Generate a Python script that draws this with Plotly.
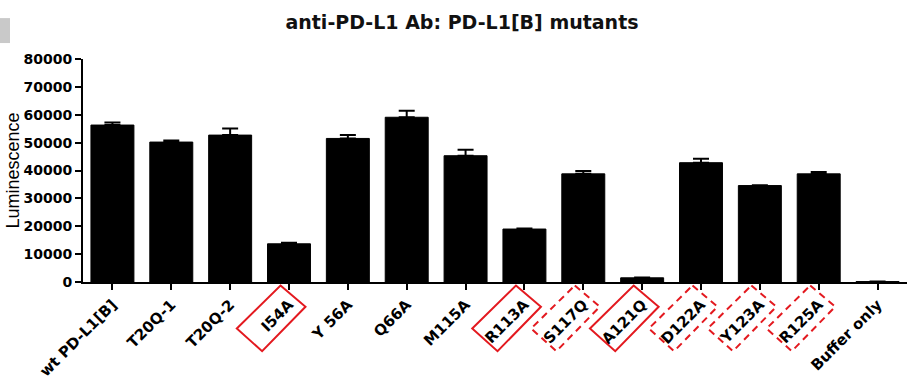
import plotly.graph_objects as go

categories = ["wt PD-L1[B]", "T20Q-1", "T20Q-2", "I54A", "Y 56A", "Q66A", "M115A",
              "R113A", "S117Q", "A121Q", "D122A", "Y123A", "R125A", "Buffer only"]
values = [56300, 50200, 52700, 13700, 51500, 59100, 45300,
          19000, 38800, 1500, 42800, 34600, 38800, 150]
errors = [900, 600, 2400, 350, 1200, 2300, 2150,
          200, 1000, 150, 1450, 150, 700, 0]
solid_boxes = ["I54A", "R113A", "A121Q"]
dashed_boxes = ["S117Q", "D122A", "Y123A", "R125A"]
y_ticks = [0, 10000, 20000, 30000, 40000, 50000, 60000, 70000, 80000]

RED = "#e3191f"
tick_font = dict(family="DejaVu Sans", size=14, color="black", weight="bold")
N = len(categories)

fig = go.Figure()
fig.add_trace(go.Bar(
    x=list(range(N)), y=values, width=0.73,
    marker=dict(color="black", line=dict(color="black", width=1)),
    error_y=dict(type="data", symmetric=False, array=errors,
                 arrayminus=[0] * N, color="black", thickness=2, width=8),
    showlegend=False,
))

# rotated boxes around selected tick labels (pixel offsets relative to tick base)
box_path = "M -8.5 -3.5 L 16.5 -24.7 L -26.9 -69.2 L -52.2 -46.5 Z"
for name in solid_boxes + dashed_boxes:
    i = categories.index(name)
    fig.add_shape(
        type="path", xref="paper", yref="paper", xsizemode="pixel", ysizemode="pixel",
        xanchor=(i + 0.5) / N, yanchor=0, path=box_path,
        line=dict(color=RED, width=2, dash="solid" if name in solid_boxes else "7px,5px"),
        layer="above",
    )
# grey block in top-left corner
fig.add_shape(type="rect", xref="paper", yref="paper",
              x0=-83 / 824, x1=-73 / 824,
              y0=1 + (59 - 43) / 223.5, y1=1 + (59 - 18) / 223.5,
              line=dict(width=0), fillcolor="#c9c9c9")

fig.update_layout(
    width=913, height=386,
    margin=dict(l=83, r=6, t=59, b=103.5),
    paper_bgcolor="white", plot_bgcolor="white",
    title=dict(text="anti-PD-L1 Ab: PD-L1[B] mutants", x=462 / 913, xanchor="center",
               y=1 - 22 / 386, yanchor="middle", xref="container", yref="container",
               font=dict(family="DejaVu Sans", size=19, color="#111", weight="bold")),
    annotations=[dict(text="Luminescence", xref="paper", yref="paper",
                      x=-71 / 824, y=0.5, xanchor="center", yanchor="middle",
                      textangle=-90, showarrow=False,
                      font=dict(family="Liberation Sans", size=18, color="black"))],
)
fig.update_xaxes(
    range=[-0.5, N - 0.5], tickmode="array",
    tickvals=list(range(N)), ticktext=categories,
    tickangle=-45, tickfont=dict(tick_font, size=15), automargin=False,
    showline=True, linecolor="black", linewidth=2,
    ticks="outside", ticklen=6, tickwidth=2, tickcolor="black",
    showgrid=False, zeroline=False,
)
fig.update_yaxes(
    range=[0, 80000], tickvals=y_ticks, tickformat="d",
    tickfont=tick_font, automargin=False,
    showline=True, linecolor="black", linewidth=2,
    ticks="outside", ticklen=6, tickwidth=2, tickcolor="black",
    showgrid=False, zeroline=False,
)
fig.write_html("out.html", config={"displayModeBar": False},
               post_script="document.body.style.margin='0';document.body.style.padding='0';")
